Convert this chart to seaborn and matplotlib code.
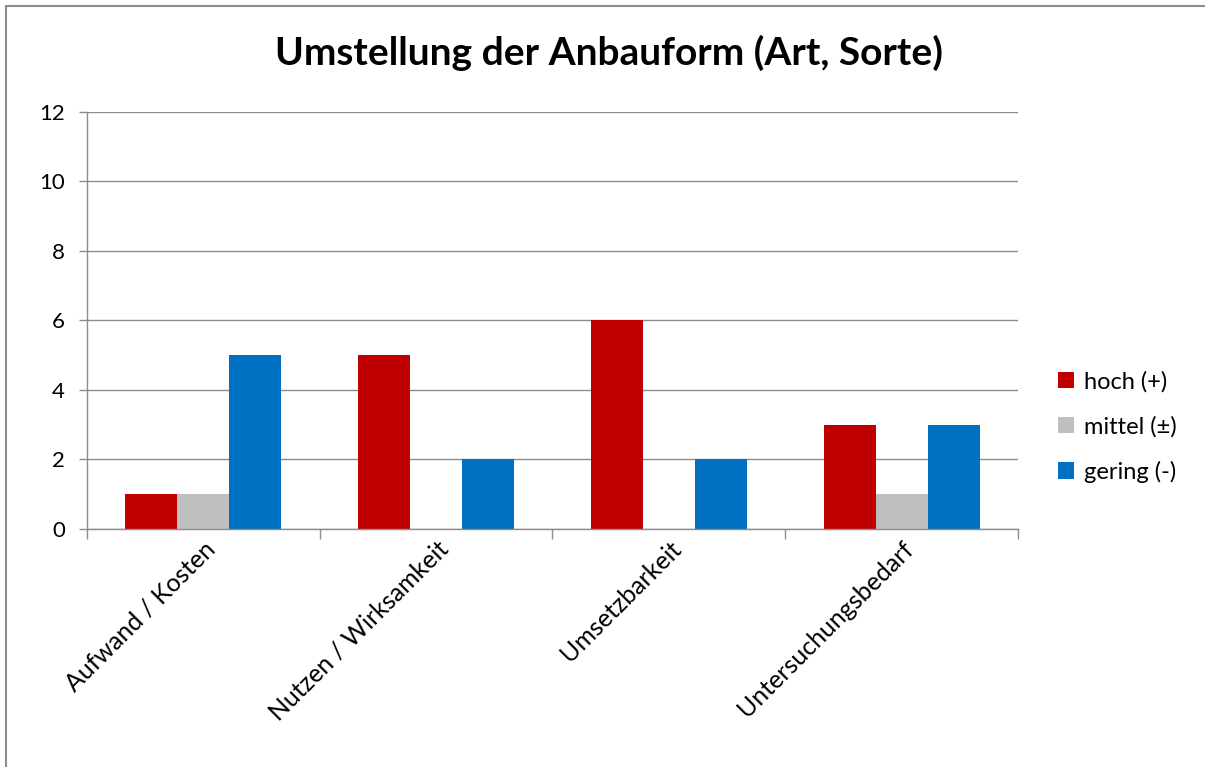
import numpy as np  # noqa: F401
import pandas as pd
import matplotlib
matplotlib.use("Agg")
import matplotlib.pyplot as plt
import seaborn as sns
from matplotlib.patches import Rectangle

# ─── Daten ─────────────────────────────────────────────────────────────────────
kategorien = ["Aufwand / Kosten", "Nutzen / Wirksamkeit", "Umsetzbarkeit", "Untersuchungsbedarf"]
stufen     = ["hoch (+)", "mittel (±)", "gering (-)"]
hoch       = [1, 5, 6, 3]
mittel     = [1, 0, 0, 1]
gering     = [5, 2, 2, 3]
y_ticks    = [0, 2, 4, 6, 8, 10, 12]

farben = ["#C00000", "#BFBFBF", "#0070C0"]

df = pd.DataFrame({
    "Kategorie": kategorien * 3,
    "Stufe":     [s for s in stufen for _ in kategorien],
    "Wert":      hoch + mittel + gering,
})

sns.set_theme(style="white")
plt.rcParams["font.family"] = ["Lato", "DejaVu Sans"]
plt.rcParams["text.color"] = "black"
plt.rcParams["xtick.color"] = "black"
plt.rcParams["ytick.color"] = "black"

fig = plt.figure(figsize=(12.05, 7.67), dpi=100)
ax = fig.add_axes([0.0722, 0.3103, 0.7726, 0.5437])

sns.barplot(data=df, x="Kategorie", y="Wert", hue="Stufe", hue_order=stufen,
            palette=farben, width=0.67, saturation=1, linewidth=0, ax=ax, legend=True)

ax.set_ylim(0, 12)
ax.set_xlim(-0.5, len(kategorien) - 0.5)
ax.set_yticks(y_ticks)
ax.set_yticklabels([str(t) for t in y_ticks], fontsize=16)
ax.yaxis.grid(True, color="#8C8C8C", lw=1)
ax.set_axisbelow(True)
ax.set_xlabel("")
ax.set_ylabel("")

# Tick-Striche an den Kategoriegrenzen
ax.set_xticks(np.arange(len(kategorien) + 1) - 0.5, minor=True)
ax.tick_params(axis="x", which="minor", length=7, width=1, color="#8C8C8C", bottom=True)
ax.tick_params(axis="x", which="major", length=0, pad=6)
ax.tick_params(axis="y", length=6, width=1, color="#8C8C8C", left=True, pad=10)
ax.set_xticks(range(len(kategorien)))
ax.set_xticklabels(kategorien, rotation=45, ha="right", rotation_mode="anchor", fontsize=18)

for s in ["top", "right"]:
    ax.spines[s].set_visible(False)
for s in ["left", "bottom"]:
    ax.spines[s].set_color("#8C8C8C")
    ax.spines[s].set_linewidth(1)

fig.suptitle("Umstellung der Anbauform (Art, Sorte)", x=0.505, y=0.955,
             fontsize=28, fontweight="bold")

leg = ax.legend(loc="center left", bbox_to_anchor=(1.02, 0.245), frameon=False,
                fontsize=17, handlelength=0.7, handleheight=0.7,
                labelspacing=1.0, handletextpad=0.4)

# Rahmen um die Grafik
fig.patches.append(Rectangle((0.005, -0.01), 1.1, 1.002, transform=fig.transFigure,
                             fill=False, edgecolor="#8C8C8C", lw=1.5))

fig.savefig("out.png", dpi=100)
